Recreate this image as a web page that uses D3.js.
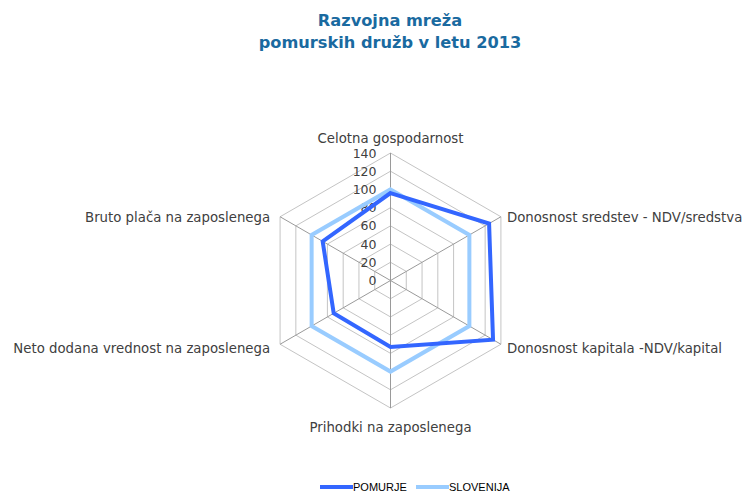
<!DOCTYPE html>
<html>
<head>
<meta charset="utf-8">
<script src="https://cdn.jsdelivr.net/npm/d3@7"></script>
<style>
  body { margin: 0; background: #fff; }
  svg { display: block; }
</style>
</head>
<body>
<div id="chart"></div>
<script>
// data
const categories = [
    "Celotna gospodarnost",
    "Donosnost sredstev - NDV/sredstva",
    "Donosnost kapitala -NDV/kapital",
    "Prihodki na zaposlenega",
    "Neto dodana vrednost na zaposlenega",
    "Bruto plača na zaposlenega"
];
const pomurje = [96, 125, 130, 73, 72, 86];
const slovenija = [100, 100, 100, 100, 100, 100];
const ticks = [0, 20, 40, 60, 80, 100, 120, 140];
const seriesNames = ["POMURJE", "SLOVENIJA"];

const W = 749, H = 493;
const cx = 390.5, cy = 280.5;
const font = "Verdana, 'DejaVu Sans', sans-serif";

const svg = d3.select("#chart").append("svg")
    .attr("width", W)
    .attr("height", H);

// title
const title = svg.append("text")
    .attr("x", 390)
    .attr("text-anchor", "middle")
    .style("font-family", font)
    .style("font-size", "16.2px")
    .style("font-weight", "bold")
    .style("fill", "#1a6aa0");
title.append("tspan").attr("x", 390).attr("y", 26).text("Razvojna mreža");
title.append("tspan").attr("x", 390).attr("y", 48).text("pomurskih družb v letu 2013");

const r = d3.scaleLinear().domain([0, 140]).range([0, 127.5]);
const angle = d3.scalePoint()
    .domain(categories)
    .range([0, 2 * Math.PI * (categories.length - 1) / categories.length]);

const g = svg.append("g").attr("transform", `translate(${cx},${cy})`);

// rings
const ring = d3.lineRadial()
    .angle(d => angle(d))
    .curve(d3.curveLinearClosed);

g.selectAll(".ring")
    .data(ticks.slice(1))
    .enter()
    .append("path")
    .attr("d", t => ring.radius(r(t))(categories))
    .attr("fill", "none")
    .attr("stroke", "#c4c4c4")
    .attr("stroke-width", 1);

// spokes
g.selectAll(".spoke")
    .data(categories)
    .enter()
    .append("line")
    .attr("x1", 0).attr("y1", 0)
    .attr("x2", d => r(140) * Math.sin(angle(d)))
    .attr("y2", d => -r(140) * Math.cos(angle(d)))
    .attr("stroke", "#9a9a9a")
    .attr("stroke-width", 1);

// tick labels
g.selectAll(".tick")
    .data(ticks)
    .enter()
    .append("text")
    .attr("x", -14)
    .attr("y", t => -r(t))
    .attr("dy", "0.36em")
    .attr("text-anchor", "end")
    .style("font-family", font)
    .style("font-size", "12.5px")
    .style("fill", "#404040")
    .text(t => t);

// series
const line = d3.lineRadial()
    .angle((d, i) => angle(categories[i]))
    .radius(d => r(d))
    .curve(d3.curveLinearClosed);

const series = [
    { name: seriesNames[1], values: slovenija, color: "#99ccff" },
    { name: seriesNames[0], values: pomurje, color: "#3366ff" }
];

g.selectAll(".series")
    .data(series)
    .enter()
    .append("path")
    .attr("d", d => line(d.values))
    .attr("fill", "none")
    .attr("stroke", d => d.color)
    .attr("stroke-width", 4)
    .attr("stroke-linejoin", "miter");

// category labels
const sx = r(140) * Math.sin(Math.PI / 3);
const labelPos = [
    { x: 0, y: -r(140) - 15, anchor: "middle" },
    { x: sx + 6, y: -r(140) / 2, anchor: "start" },
    { x: sx + 6, y: r(140) / 2 + 4, anchor: "start" },
    { x: 0, y: r(140) + 19, anchor: "middle" },
    { x: -sx - 10, y: r(140) / 2 + 4, anchor: "end" },
    { x: -sx - 10, y: -r(140) / 2, anchor: "end" }
];

g.selectAll(".cat")
    .data(categories)
    .enter()
    .append("text")
    .attr("x", (d, i) => labelPos[i].x)
    .attr("y", (d, i) => labelPos[i].y)
    .attr("dy", "0.36em")
    .attr("text-anchor", (d, i) => labelPos[i].anchor)
    .style("font-family", font)
    .style("font-size", "13.3px")
    .style("fill", "#404040")
    .text(d => d);

// legend
const legend = svg.append("g").attr("transform", "translate(320,487)");
const legendItems = [
    { name: seriesNames[0], color: "#3366ff", x: 0 },
    { name: seriesNames[1], color: "#99ccff", x: 96 }
];
const li = legend.selectAll(".li")
    .data(legendItems)
    .enter()
    .append("g")
    .attr("transform", d => `translate(${d.x},0)`);
li.append("line")
    .attr("x1", 0).attr("x2", 33)
    .attr("y1", 0).attr("y2", 0)
    .attr("stroke", d => d.color)
    .attr("stroke-width", 4);
li.append("text")
    .attr("x", 33)
    .attr("dy", "0.35em")
    .style("font-family", "Arial, 'Liberation Sans', sans-serif")
    .style("font-size", "11px")
    .style("fill", "#000")
    .text(d => d.name);
</script>
</body>
</html>
